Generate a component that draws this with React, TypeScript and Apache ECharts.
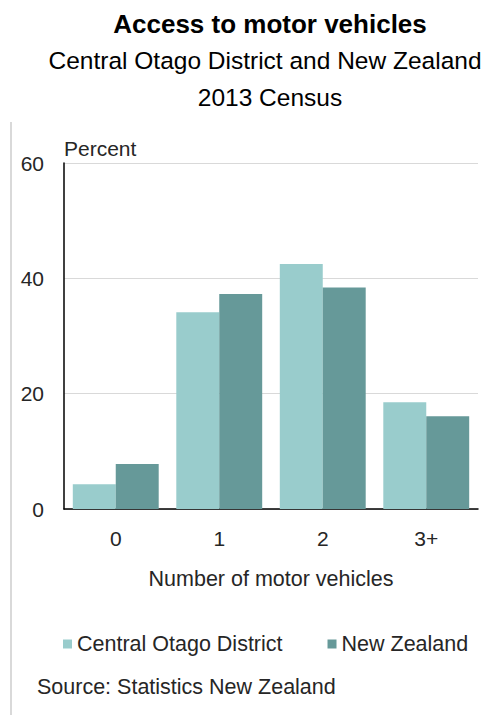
import React, { useEffect, useRef } from "react";
import * as echarts from "echarts";

const categories = ["0", "1", "2", "3+"];
const centralOtago = [4.3, 34.1, 42.5, 18.5];
const newZealand = [7.8, 37.3, 38.4, 16.1];
const seriesNames = ["Central Otago District", "New Zealand"];
const yTicks = { min: 0, max: 60, interval: 20 };

const FONT = "'Liberation Sans', Arial, sans-serif";

export default function App() {
  const ref = useRef<HTMLDivElement>(null);
  useEffect(() => {
    if (!ref.current) return;
    const chart = echarts.init(ref.current, undefined, { renderer: "svg" });
    chart.setOption({
      animation: false,
      textStyle: { fontFamily: FONT, color: "#262626" },
      graphic: [
        {
          type: "text",
          x: 270,
          y: 24,
          style: {
            text: "Access to motor vehicles",
            font: `bold 26px ${FONT}`,
            fill: "#000",
            align: "center",
            verticalAlign: "middle",
          },
        },
        {
          type: "text",
          x: 265,
          y: 60,
          style: {
            text: "Central Otago District and New Zealand",
            font: `24.5px ${FONT}`,
            fill: "#000",
            align: "center",
            verticalAlign: "middle",
          },
        },
        {
          type: "text",
          x: 270,
          y: 97,
          style: {
            text: "2013 Census",
            font: `24.5px ${FONT}`,
            fill: "#000",
            align: "center",
            verticalAlign: "middle",
          },
        },
        {
          type: "line",
          shape: { x1: 11, y1: 122, x2: 11, y2: 715 },
          style: { stroke: "#cccccc", lineWidth: 1.5 },
        },
        {
          type: "text",
          x: 37,
          y: 687,
          style: {
            text: "Source: Statistics New Zealand",
            font: `21.5px ${FONT}`,
            fill: "#262626",
            align: "left",
            verticalAlign: "middle",
          },
        },
      ],
      grid: { left: 64, right: 6, top: 163, bottom: 206, containLabel: false },
      legend: {
        data: seriesNames,
        left: 63,
        top: 633,
        padding: 0,
        itemWidth: 9,
        itemHeight: 9,
        itemGap: 45,
        icon: "rect",
        textStyle: { fontSize: 21.5, fontFamily: FONT, color: "#262626" },
      },
      xAxis: {
        type: "category",
        data: categories,
        name: "Number of motor vehicles",
        nameLocation: "middle",
        nameGap: 70,
        nameTextStyle: { fontSize: 21.5, color: "#262626", verticalAlign: "middle" },
        axisLine: { lineStyle: { color: "#000", width: 1.5 } },
        axisTick: { show: false },
        axisLabel: { fontSize: 21, color: "#262626", margin: 19 },
      },
      yAxis: {
        type: "value",
        min: yTicks.min,
        max: yTicks.max,
        interval: yTicks.interval,
        name: "Percent",
        nameLocation: "end",
        nameGap: 15,
        nameTextStyle: { fontSize: 21, color: "#262626", align: "left", verticalAlign: "middle" },
        axisLine: { show: true, lineStyle: { color: "#000", width: 1.5 } },
        axisTick: { show: false },
        axisLabel: { fontSize: 21, color: "#262626", margin: 20 },
        splitLine: { lineStyle: { color: "#d9d9d9", width: 1.2 } },
      },
      series: [
        {
          name: seriesNames[0],
          type: "bar",
          data: centralOtago,
          itemStyle: { color: "#99cccc" },
          barGap: "0%",
          barCategoryGap: "17%",
        },
        {
          name: seriesNames[1],
          type: "bar",
          data: newZealand,
          itemStyle: { color: "#669999" },
          barGap: "0%",
          barCategoryGap: "17%",
        },
      ],
    });
    return () => chart.dispose();
  }, []);
  return <div ref={ref} style={{ width: 484, height: 715, position: "absolute", left: 0, top: 0 }} />;
}
